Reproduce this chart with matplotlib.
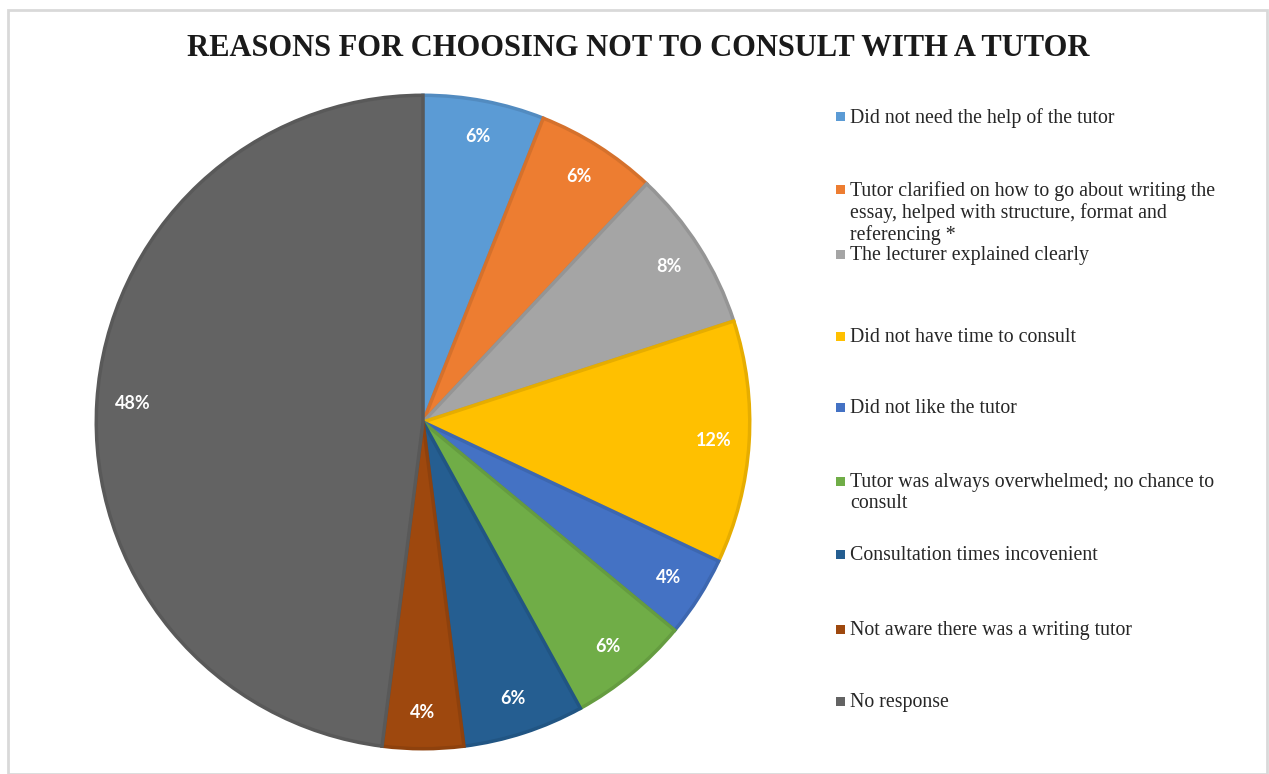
import matplotlib
matplotlib.use("Agg")
import matplotlib.pyplot as plt
import matplotlib.colors as mcolors
from matplotlib.patches import Rectangle

# data
reasons = [
    "Did not need the help of the tutor",
    "Tutor clarified on how to go about writing the\nessay, helped with structure, format and\nreferencing *",
    "The lecturer explained clearly",
    "Did not have time to consult",
    "Did not like the tutor",
    "Tutor was always overwhelmed; no chance to\nconsult",
    "Consultation times incovenient",
    "Not aware there was a writing tutor",
    "No response",
]
percents = [6, 6, 8, 12, 4, 6, 6, 4, 48]
colors = ["#5B9BD5", "#ED7D31", "#A5A5A5", "#FFC000", "#4472C4",
          "#70AD47", "#255E91", "#9E480E", "#636363"]

# legend row tops in pixels (excel spaces these unevenly)
legend_rows = [117, 190, 255, 337, 408, 482, 555, 630, 702]

W, H = 1269, 774
fig = plt.figure(figsize=(W / 100, H / 100), dpi=100)

# light chart border
fig.patches.append(Rectangle((8 / W, 0), (1267 - 8) / W, (H - 10) / H,
                             transform=fig.transFigure, fill=False,
                             edgecolor="#d9d9d9", linewidth=2))

fig.text(638 / W, 1 - 49 / H, "REASONS FOR CHOOSING NOT TO CONSULT WITH A TUTOR",
         ha="center", va="center", fontsize=22, fontweight="bold",
         family="Liberation Serif", color="#1a1a1a")

# pie axes: center (423, 422), radius 330 px
cx, cy, r = 423, 422, 330
ax = fig.add_axes([(cx - r) / W, (H - cy - r) / H, 2 * r / W, 2 * r / H])
edges = [tuple(c * 0.9 for c in mcolors.to_rgb(col)) for col in colors]
wedges, texts, autotexts = ax.pie(
    percents, colors=colors, startangle=90, counterclock=False,
    autopct="%d%%", pctdistance=0.89, radius=1,
    wedgeprops=dict(linewidth=2.5),
    textprops=dict(color="white", fontsize=13, fontweight="bold", family="Lato"))
for w, e in zip(wedges, edges):
    w.set_edgecolor(e)
ax.set_xlim(-1.01, 1.01)
ax.set_ylim(-1.01, 1.01)
ax.set_aspect("equal")
ax.axis("off")

# legend drawn by hand
for lab, col, y in zip(reasons, colors, legend_rows):
    fig.patches.append(Rectangle((836 / W, 1 - (y + 4) / H), 9 / W, 9 / H,
                                 transform=fig.transFigure, facecolor=col,
                                 edgecolor="none"))
    fig.text(850 / W, 1 - (y - 9) / H, lab, ha="left", va="top",
             fontsize=14.3, family="Liberation Serif", color="#262626",
             linespacing=1.16)

fig.savefig("out.png", dpi=100)
